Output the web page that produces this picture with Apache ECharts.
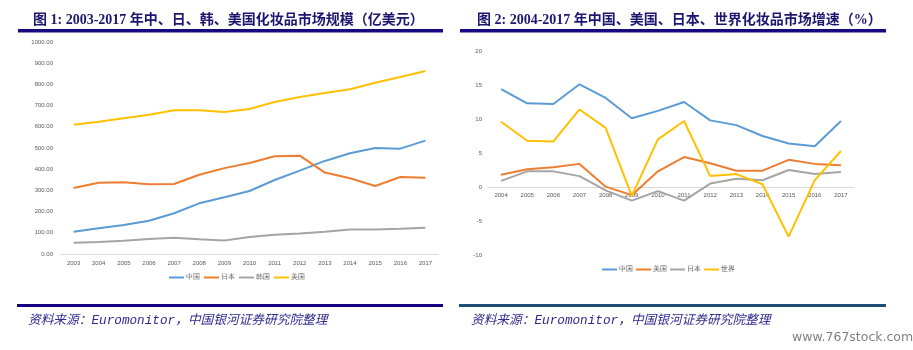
<!DOCTYPE html>
<html><head><meta charset="utf-8">
<script src="https://cdn.jsdelivr.net/npm/echarts@6/dist/echarts.min.js"></script>
<style>html,body{margin:0;padding:0;background:#fff}#c{width:913px;height:350px}</style>
</head><body><div id="c"></div>
<script>
// Chart 1: market size (100M USD)
const years1 = ['2003','2004','2005','2006','2007','2008','2009','2010','2011','2012','2013','2014','2015','2016','2017'];
const china1 = [105,121,137,157,192,239,268,297,349,393,439,475,500,497,535];
const japan1 = [311,336,338,329,330,374,405,429,461,464,384,357,321,363,360];
const korea1 = [53,57,63,71,77,69,64,80,91,97,105,116,115,119,124];
const usa1   = [610,624,640,657,678,678,670,684,717,741,759,777,808,835,863];
const legend1 = ['中国','日本','韩国','美国'];

// Chart 2: growth rate (%)
const years2 = ['2004','2005','2006','2007','2008','2009','2010','2011','2012','2013','2014','2015','2016','2017'];
const china2 = [14.4,12.3,12.2,15.1,13.1,10.1,11.2,12.5,9.8,9.1,7.5,6.4,6.0,9.7];
const usa2   = [1.8,2.6,2.9,3.4,0.05,-1.2,2.3,4.4,3.5,2.4,2.4,4.0,3.4,3.2];
const japan2 = [0.9,2.3,2.3,1.6,-0.5,-2.0,-0.6,-2.0,0.5,1.2,1.0,2.5,1.9,2.2];
const world2 = [9.6,6.8,6.7,11.4,8.7,-1.3,7.0,9.7,1.6,1.9,0.4,-7.3,1.0,5.3];
const legend2 = ['中国','美国','日本','世界'];

const title1 = '图 1: 2003-2017 年中、日、韩、美国化妆品市场规模（亿美元）';
const title2 = '图 2: 2004-2017 年中国、美国、日本、世界化妆品市场增速（%）';
const source = '资料来源：Euromonitor，中国银河证券研究院整理';

const C = {blue:'#5b9bd5', orange:'#ed7d31', gray:'#a5a5a5', yellow:'#ffc000'};
const labelStyle = {color:'#595959', fontSize:6, fontFamily:'Liberation Sans, Noto Sans CJK SC'};
const titleFont = '"Liberation Serif", "Noto Sans CJK SC", serif';
const srcFont = '"Liberation Mono", "Noto Sans CJK SC", monospace';
const SUF = '#2'; // internal suffix to keep series names of chart 2 distinct

function ln(name, data, color, xi, yi){
  return {type:'line', name, data, xAxisIndex:xi, yAxisIndex:yi, symbol:'none',
    lineStyle:{width:2, color}, itemStyle:{color}, animation:false};
}

const chart = echarts.init(document.getElementById('c'), null, {renderer:'canvas'});
chart.setOption({
  animation:false,
  title:[
    {text:title1, left:28, top:8, textStyle:{fontSize:14, fontWeight:'bold', color:'#1c1670', fontFamily:titleFont}},
    {text:title2, left:472, top:8, textStyle:{fontSize:14, fontWeight:'bold', color:'#1c1670', fontFamily:titleFont}}
  ],
  legend:[
    {data:legend1, left:169, top:274, padding:0, itemWidth:15, itemHeight:2, itemGap:4, icon:'rect',
     textStyle:{fontSize:7, color:'#595959', padding:[0,0,0,-3]}},
    {data:legend2.map(n=>n+SUF), formatter:n=>n.replace(SUF,''), left:602, top:266, padding:0,
     itemWidth:15, itemHeight:2, itemGap:3, icon:'rect',
     textStyle:{fontSize:7, color:'#595959', padding:[0,0,0,-3]}}
  ],
  grid:[
    {left:61, top:42, width:377, height:212},
    {left:488, top:51, width:366, height:204}
  ],
  xAxis:[
    {type:'category', gridIndex:0, data:years1, boundaryGap:true,
     axisLine:{lineStyle:{color:'#d9d9d9', width:1}}, axisTick:{show:false},
     axisLabel:Object.assign({margin:6}, labelStyle)},
    {type:'category', gridIndex:1, data:years2, boundaryGap:true,
     axisLine:{onZero:true, lineStyle:{color:'#d9d9d9', width:1}}, axisTick:{show:false},
     axisLabel:Object.assign({margin:-63}, labelStyle)}
  ],
  yAxis:[
    {type:'value', gridIndex:0, min:0, max:1000, interval:100, splitLine:{show:false},
     axisLine:{show:false}, axisTick:{show:false},
     axisLabel:Object.assign({margin:8, formatter:v=>v.toFixed(2)}, labelStyle)},
    {type:'value', gridIndex:1, min:-10, max:20, interval:5, splitLine:{show:false},
     axisLine:{show:false}, axisTick:{show:false},
     axisLabel:Object.assign({margin:6}, labelStyle)}
  ],
  series:[
    ln(legend1[0], china1, C.blue, 0, 0),
    ln(legend1[1], japan1, C.orange, 0, 0),
    ln(legend1[2], korea1, C.gray, 0, 0),
    ln(legend1[3], usa1, C.yellow, 0, 0),
    ln(legend2[0]+SUF, china2, C.blue, 1, 1),
    ln(legend2[1]+SUF, usa2, C.orange, 1, 1),
    ln(legend2[2]+SUF, japan2, C.gray, 1, 1),
    ln(legend2[3]+SUF, world2, C.yellow, 1, 1)
  ],
  graphic:[
    {type:'rect', shape:{x:18, y:29, width:425, height:3.5}, style:{fill:'#16087e'}, silent:true},
    {type:'rect', shape:{x:460, y:29, width:426, height:3.5}, style:{fill:'#16087e'}, silent:true},
    {type:'rect', shape:{x:17, y:304, width:426, height:3}, style:{fill:'#13007c'}, silent:true},
    {type:'rect', shape:{x:459, y:304, width:427, height:3}, style:{fill:'#1f4e79'}, silent:true},
    {type:'text', left:28, top:314, style:{text:source, fill:'#2e2a8f', fontSize:12.7, fontStyle:'italic', fontFamily:srcFont}},
    {type:'text', left:471, top:314, style:{text:source, fill:'#2e2a8f', fontSize:12.7, fontStyle:'italic', fontFamily:srcFont}},
    {type:'text', left:792, top:331, style:{text:'www.767stock.com', fill:'#808080', fontSize:12.5, fontFamily:'"DejaVu Sans", sans-serif'}}
  ]
});
</script></body></html>
